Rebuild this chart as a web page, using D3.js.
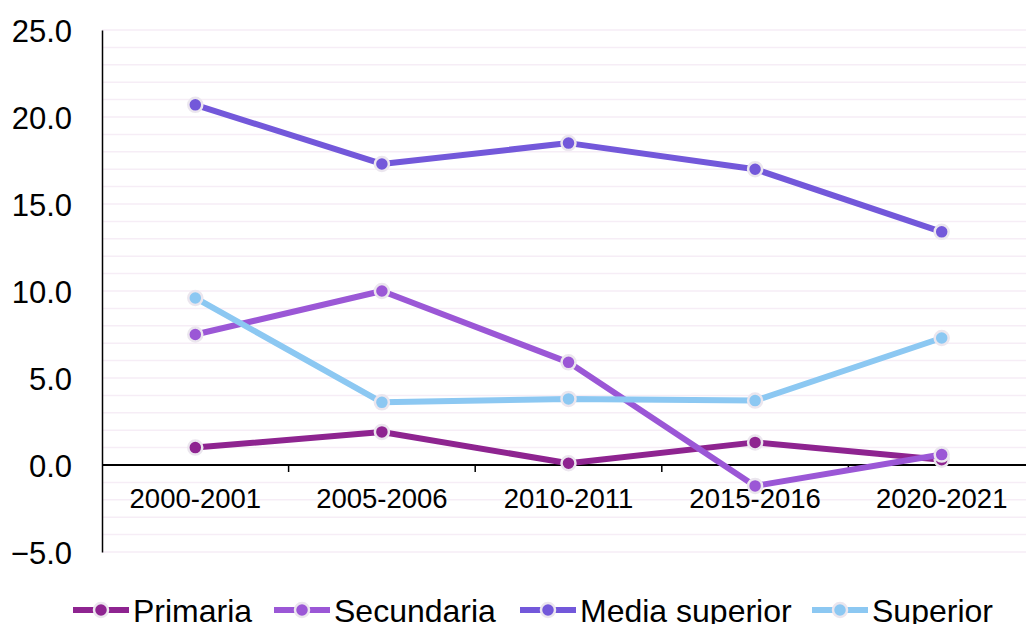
<!DOCTYPE html>
<html><head><meta charset="utf-8">
<script src="https://cdn.jsdelivr.net/npm/d3@7"></script>
<style>body{margin:0;background:#fff;overflow:hidden}text{font-family:"Liberation Sans",Arial,sans-serif}</style>
</head><body><svg id="c" width="1026" height="624"></svg>
<script>
const categories = ["2000-2001","2005-2006","2010-2011","2015-2016","2020-2021"];
const seriesNames = ["Primaria","Secundaria","Media superior","Superior"];
const primaria = [1.0, 1.9, 0.1, 1.3, 0.3];
const secundaria = [7.5, 10.0, 5.9, -1.2, 0.6];
const mediaSuperior = [20.7, 17.3, 18.5, 17.0, 13.4];
const superior = [9.6, 3.6, 3.8, 3.7, 7.3];
const yTicks = [-5, 0, 5, 10, 15, 20, 25];
const colors = ["#8e2490", "#9b57d6", "#7358da", "#8cc8f2"];

const svg = d3.select("#c");
const x = d3.scaleBand().domain(categories).range([102, 1035]).padding(0);
const y = d3.scaleLinear().domain([-5, 25]).range([552, 30]);

// gridlines
svg.append("g").selectAll("line").data(d3.range(-5, 26, 1)).join("line")
  .attr("x1", 102).attr("x2", 1026)
  .attr("y1", d => y(d)).attr("y2", d => y(d))
  .attr("stroke", "#f6edf6").attr("stroke-width", 1.5);

// y axis
const ya = svg.append("g").attr("transform", "translate(102,0)")
  .call(d3.axisLeft(y).tickValues(yTicks).tickFormat(d3.format(".1f")).tickSize(0).tickPadding(30));
ya.select(".domain").attr("stroke", "#000").attr("stroke-width", 1.5);
ya.selectAll("text").attr("font-size", 31).attr("fill", "#000").attr("dy", "0.36em")
  .style("font-family", '"Liberation Sans",Arial,sans-serif');

// x axis at zero
const xa = svg.append("g").attr("transform", `translate(0,${y(0)})`)
  .call(d3.axisBottom(x).tickSize(0).tickPadding(0));
xa.select(".domain").remove();
xa.append("line").attr("x1", 102).attr("x2", 1026).attr("stroke", "#000").attr("stroke-width", 2);
xa.selectAll(".tick text").attr("font-size", 27.5).attr("fill", "#000").attr("y", 33).attr("dy", "0.36em")
  .style("font-family", '"Liberation Sans",Arial,sans-serif');
svg.append("g").selectAll("line").data(categories.slice(1)).join("line")
  .attr("x1", d => x(d)).attr("x2", d => x(d))
  .attr("y1", y(0)).attr("y2", y(0) + 7)
  .attr("stroke", "#000").attr("stroke-width", 1.5);

const data = [primaria, secundaria, mediaSuperior, superior];
const line = d3.line().x((d, i) => x(categories[i]) + x.bandwidth() / 2).y(d => y(d));
data.forEach((vals, si) => {
  const g = svg.append("g");
  g.append("path").attr("d", line(vals)).attr("fill", "none")
    .attr("stroke", colors[si]).attr("stroke-width", 6).attr("stroke-linejoin", "round");
  g.selectAll("circle").data(vals).join("circle")
    .attr("cx", (d, i) => x(categories[i]) + x.bandwidth() / 2).attr("cy", d => y(d))
    .attr("r", 7).attr("fill", colors[si]).attr("stroke", "#ebe6ee").attr("stroke-width", 2.5);
});

// legend
const legendX = [73, 274, 520, 812];
const lg = svg.append("g");
seriesNames.forEach((n, i) => {
  const gx = legendX[i], gy = 610;
  lg.append("line").attr("x1", gx).attr("x2", gx + 56).attr("y1", gy).attr("y2", gy)
    .attr("stroke", colors[i]).attr("stroke-width", 6);
  lg.append("circle").attr("cx", gx + 28).attr("cy", gy).attr("r", 7)
    .attr("fill", colors[i]).attr("stroke", "#ebe6ee").attr("stroke-width", 2.5);
  lg.append("text").attr("x", gx + 60).attr("y", gy).attr("dy", "0.36em")
    .attr("font-size", 32).attr("fill", "#000").text(n);
});
</script></body></html>
